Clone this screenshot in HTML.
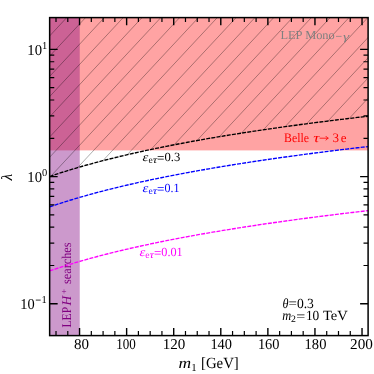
<!DOCTYPE html>
<html><head><meta charset="utf-8">
<style>
html,body{margin:0;padding:0;background:#fff;overflow:hidden;width:374px;height:374px;}
svg{display:block}
.ov{position:absolute;left:0;top:0;will-change:transform;}
text{font-family:"Liberation Serif",serif;text-rendering:geometricPrecision;}
</style></head>
<body>
<svg width="374" height="374" viewBox="0 0 374 374">
<rect width="374" height="374" fill="#fff"/>
<defs>
<clipPath id="hc"><path d="M49.65,176.53 L54.96,174.72 L60.27,172.98 L65.57,171.29 L70.88,169.65 L76.19,168.05 L81.50,166.50 L86.80,165.00 L92.11,163.53 L97.42,162.11 L102.73,160.71 L108.03,159.36 L113.34,158.03 L118.65,156.74 L123.96,155.48 L129.26,154.25 L134.57,153.04 L139.88,151.86 L145.19,150.70 L150.49,149.57 L155.80,148.46 L161.11,147.37 L166.42,146.31 L171.72,145.26 L177.03,144.24 L182.34,143.23 L187.65,142.24 L192.95,141.27 L198.26,140.31 L203.57,139.38 L208.88,138.45 L214.18,137.55 L219.49,136.66 L224.80,135.78 L230.10,134.91 L235.41,134.06 L240.72,133.23 L246.03,132.40 L251.34,131.59 L256.64,130.79 L261.95,130.00 L267.26,129.22 L272.57,128.45 L277.87,127.70 L283.18,126.95 L288.49,126.21 L293.80,125.49 L299.10,124.77 L304.41,124.06 L309.72,123.37 L315.02,122.68 L320.33,121.99 L325.64,121.32 L330.95,120.66 L336.26,120.00 L341.56,119.35 L346.87,118.71 L352.18,118.08 L357.49,117.45 L362.79,116.83 L368.10,116.22 L368.1,17.6 L49.65,17.6 Z"/></clipPath>
<clipPath id="ax"><rect x="49.65" y="17.6" width="318.45000000000005" height="318.0"/></clipPath>
</defs>
<rect x="49.65" y="17.6" width="318.45000000000005" height="132.80" fill="#ff0000" fill-opacity="0.36"/>
<rect x="49.65" y="17.6" width="30.10" height="318.0" fill="#800080" fill-opacity="0.4"/>
<g clip-path="url(#hc)"><path d="M7.84,0 L-364.56,400 M26.66,0 L-345.74,400 M45.48,0 L-326.92,400 M64.30,0 L-308.10,400 M83.11,0 L-289.29,400 M101.93,0 L-270.47,400 M120.75,0 L-251.65,400 M139.57,0 L-232.83,400 M158.39,0 L-214.01,400 M177.20,0 L-195.20,400 M196.02,0 L-176.38,400 M214.84,0 L-157.56,400 M233.66,0 L-138.74,400 M252.48,0 L-119.92,400 M271.29,0 L-101.11,400 M290.11,0 L-82.29,400 M308.93,0 L-63.47,400 M327.75,0 L-44.65,400 M346.57,0 L-25.83,400 M365.38,0 L-7.02,400 M384.20,0 L11.80,400 M403.02,0 L30.62,400 M421.84,0 L49.44,400 M440.66,0 L68.26,400 M459.47,0 L87.07,400 M478.29,0 L105.89,400 M497.11,0 L124.71,400 M515.93,0 L143.53,400 M534.75,0 L162.35,400 M553.56,0 L181.16,400 M572.38,0 L199.98,400 M591.20,0 L218.80,400 M610.02,0 L237.62,400 M628.84,0 L256.44,400 M647.65,0 L275.25,400 M666.47,0 L294.07,400 M685.29,0 L312.89,400 M704.11,0 L331.71,400 M722.93,0 L350.53,400 M741.74,0 L369.34,400 M760.56,0 L388.16,400 M779.38,0 L406.98,400 M798.20,0 L425.80,400 M817.02,0 L444.62,400 M835.83,0 L463.43,400 M854.65,0 L482.25,400" stroke="#000" stroke-opacity="0.6" stroke-width="0.55" fill="none"/></g>
<g clip-path="url(#ax)" fill="none" stroke-width="1.35" stroke-dasharray="4,1.2">
<path d="M49.65,176.53 L54.96,174.72 L60.27,172.98 L65.57,171.29 L70.88,169.65 L76.19,168.05 L81.50,166.50 L86.80,165.00 L92.11,163.53 L97.42,162.11 L102.73,160.71 L108.03,159.36 L113.34,158.03 L118.65,156.74 L123.96,155.48 L129.26,154.25 L134.57,153.04 L139.88,151.86 L145.19,150.70 L150.49,149.57 L155.80,148.46 L161.11,147.37 L166.42,146.31 L171.72,145.26 L177.03,144.24 L182.34,143.23 L187.65,142.24 L192.95,141.27 L198.26,140.31 L203.57,139.38 L208.88,138.45 L214.18,137.55 L219.49,136.66 L224.80,135.78 L230.10,134.91 L235.41,134.06 L240.72,133.23 L246.03,132.40 L251.34,131.59 L256.64,130.79 L261.95,130.00 L267.26,129.22 L272.57,128.45 L277.87,127.70 L283.18,126.95 L288.49,126.21 L293.80,125.49 L299.10,124.77 L304.41,124.06 L309.72,123.37 L315.02,122.68 L320.33,121.99 L325.64,121.32 L330.95,120.66 L336.26,120.00 L341.56,119.35 L346.87,118.71 L352.18,118.08 L357.49,117.45 L362.79,116.83 L368.10,116.22" stroke="#000"/>
<path d="M49.65,206.87 L54.96,205.07 L60.27,203.32 L65.57,201.63 L70.88,199.99 L76.19,198.40 L81.50,196.85 L86.80,195.34 L92.11,193.88 L97.42,192.45 L102.73,191.06 L108.03,189.70 L113.34,188.38 L118.65,187.09 L123.96,185.82 L129.26,184.59 L134.57,183.38 L139.88,182.20 L145.19,181.05 L150.49,179.91 L155.80,178.81 L161.11,177.72 L166.42,176.65 L171.72,175.61 L177.03,174.58 L182.34,173.57 L187.65,172.59 L192.95,171.61 L198.26,170.66 L203.57,169.72 L208.88,168.80 L214.18,167.89 L219.49,167.00 L224.80,166.12 L230.10,165.26 L235.41,164.41 L240.72,163.57 L246.03,162.75 L251.34,161.93 L256.64,161.13 L261.95,160.34 L267.26,159.57 L272.57,158.80 L277.87,158.04 L283.18,157.30 L288.49,156.56 L293.80,155.83 L299.10,155.12 L304.41,154.41 L309.72,153.71 L315.02,153.02 L320.33,152.34 L325.64,151.67 L330.95,151.00 L336.26,150.35 L341.56,149.70 L346.87,149.06 L352.18,148.42 L357.49,147.79 L362.79,147.18 L368.10,146.56" stroke="#0000ff"/>
<path d="M49.65,270.92 L54.96,269.12 L60.27,267.37 L65.57,265.68 L70.88,264.04 L76.19,262.44 L81.50,260.90 L86.80,259.39 L92.11,257.93 L97.42,256.50 L102.73,255.11 L108.03,253.75 L113.34,252.43 L118.65,251.13 L123.96,249.87 L129.26,248.64 L134.57,247.43 L139.88,246.25 L145.19,245.09 L150.49,243.96 L155.80,242.85 L161.11,241.77 L166.42,240.70 L171.72,239.65 L177.03,238.63 L182.34,237.62 L187.65,236.63 L192.95,235.66 L198.26,234.71 L203.57,233.77 L208.88,232.85 L214.18,231.94 L219.49,231.05 L224.80,230.17 L230.10,229.31 L235.41,228.46 L240.72,227.62 L246.03,226.79 L251.34,225.98 L256.64,225.18 L261.95,224.39 L267.26,223.61 L272.57,222.85 L277.87,222.09 L283.18,221.34 L288.49,220.61 L293.80,219.88 L299.10,219.16 L304.41,218.46 L309.72,217.76 L315.02,217.07 L320.33,216.39 L325.64,215.71 L330.95,215.05 L336.26,214.39 L341.56,213.74 L346.87,213.10 L352.18,212.47 L357.49,211.84 L362.79,211.22 L368.10,210.61" stroke="#ff00ff"/>
</g>
<path d="M56.01,335.6 v-4.5 M56.01,17.6 v4.5" stroke="#000" stroke-width="1.2" fill="none"/>
<path d="M67.78,335.6 v-4.5 M67.78,17.6 v4.5" stroke="#000" stroke-width="1.2" fill="none"/>
<path d="M79.55,335.6 v-7.6 M79.55,17.6 v7.6" stroke="#000" stroke-width="1.4" fill="none"/>
<path d="M91.32,335.6 v-4.5 M91.32,17.6 v4.5" stroke="#000" stroke-width="1.2" fill="none"/>
<path d="M103.09,335.6 v-4.5 M103.09,17.6 v4.5" stroke="#000" stroke-width="1.2" fill="none"/>
<path d="M114.86,335.6 v-4.5 M114.86,17.6 v4.5" stroke="#000" stroke-width="1.2" fill="none"/>
<path d="M126.63,335.6 v-7.6 M126.63,17.6 v7.6" stroke="#000" stroke-width="1.4" fill="none"/>
<path d="M138.40,335.6 v-4.5 M138.40,17.6 v4.5" stroke="#000" stroke-width="1.2" fill="none"/>
<path d="M150.17,335.6 v-4.5 M150.17,17.6 v4.5" stroke="#000" stroke-width="1.2" fill="none"/>
<path d="M161.94,335.6 v-4.5 M161.94,17.6 v4.5" stroke="#000" stroke-width="1.2" fill="none"/>
<path d="M173.71,335.6 v-7.6 M173.71,17.6 v7.6" stroke="#000" stroke-width="1.4" fill="none"/>
<path d="M185.48,335.6 v-4.5 M185.48,17.6 v4.5" stroke="#000" stroke-width="1.2" fill="none"/>
<path d="M197.25,335.6 v-4.5 M197.25,17.6 v4.5" stroke="#000" stroke-width="1.2" fill="none"/>
<path d="M209.02,335.6 v-4.5 M209.02,17.6 v4.5" stroke="#000" stroke-width="1.2" fill="none"/>
<path d="M220.79,335.6 v-7.6 M220.79,17.6 v7.6" stroke="#000" stroke-width="1.4" fill="none"/>
<path d="M232.56,335.6 v-4.5 M232.56,17.6 v4.5" stroke="#000" stroke-width="1.2" fill="none"/>
<path d="M244.33,335.6 v-4.5 M244.33,17.6 v4.5" stroke="#000" stroke-width="1.2" fill="none"/>
<path d="M256.10,335.6 v-4.5 M256.10,17.6 v4.5" stroke="#000" stroke-width="1.2" fill="none"/>
<path d="M267.87,335.6 v-7.6 M267.87,17.6 v7.6" stroke="#000" stroke-width="1.4" fill="none"/>
<path d="M279.64,335.6 v-4.5 M279.64,17.6 v4.5" stroke="#000" stroke-width="1.2" fill="none"/>
<path d="M291.41,335.6 v-4.5 M291.41,17.6 v4.5" stroke="#000" stroke-width="1.2" fill="none"/>
<path d="M303.18,335.6 v-4.5 M303.18,17.6 v4.5" stroke="#000" stroke-width="1.2" fill="none"/>
<path d="M314.95,335.6 v-7.6 M314.95,17.6 v7.6" stroke="#000" stroke-width="1.4" fill="none"/>
<path d="M326.72,335.6 v-4.5 M326.72,17.6 v4.5" stroke="#000" stroke-width="1.2" fill="none"/>
<path d="M338.49,335.6 v-4.5 M338.49,17.6 v4.5" stroke="#000" stroke-width="1.2" fill="none"/>
<path d="M350.26,335.6 v-4.5 M350.26,17.6 v4.5" stroke="#000" stroke-width="1.2" fill="none"/>
<path d="M362.03,335.6 v-7.6 M362.03,17.6 v7.6" stroke="#000" stroke-width="1.4" fill="none"/>
<path d="M49.65,303.80 h8.0 M368.1,303.80 h-8.0" stroke="#000" stroke-width="1.4" fill="none"/>
<path d="M49.65,265.51 h4.6 M368.1,265.51 h-4.6" stroke="#000" stroke-width="1.2" fill="none"/>
<path d="M49.65,243.11 h4.6 M368.1,243.11 h-4.6" stroke="#000" stroke-width="1.2" fill="none"/>
<path d="M49.65,227.22 h4.6 M368.1,227.22 h-4.6" stroke="#000" stroke-width="1.2" fill="none"/>
<path d="M49.65,214.89 h4.6 M368.1,214.89 h-4.6" stroke="#000" stroke-width="1.2" fill="none"/>
<path d="M49.65,204.82 h4.6 M368.1,204.82 h-4.6" stroke="#000" stroke-width="1.2" fill="none"/>
<path d="M49.65,196.30 h4.6 M368.1,196.30 h-4.6" stroke="#000" stroke-width="1.2" fill="none"/>
<path d="M49.65,188.93 h4.6 M368.1,188.93 h-4.6" stroke="#000" stroke-width="1.2" fill="none"/>
<path d="M49.65,182.42 h4.6 M368.1,182.42 h-4.6" stroke="#000" stroke-width="1.2" fill="none"/>
<path d="M49.65,176.60 h8.0 M368.1,176.60 h-8.0" stroke="#000" stroke-width="1.4" fill="none"/>
<path d="M49.65,138.31 h4.6 M368.1,138.31 h-4.6" stroke="#000" stroke-width="1.2" fill="none"/>
<path d="M49.65,115.91 h4.6 M368.1,115.91 h-4.6" stroke="#000" stroke-width="1.2" fill="none"/>
<path d="M49.65,100.02 h4.6 M368.1,100.02 h-4.6" stroke="#000" stroke-width="1.2" fill="none"/>
<path d="M49.65,87.69 h4.6 M368.1,87.69 h-4.6" stroke="#000" stroke-width="1.2" fill="none"/>
<path d="M49.65,77.62 h4.6 M368.1,77.62 h-4.6" stroke="#000" stroke-width="1.2" fill="none"/>
<path d="M49.65,69.10 h4.6 M368.1,69.10 h-4.6" stroke="#000" stroke-width="1.2" fill="none"/>
<path d="M49.65,61.73 h4.6 M368.1,61.73 h-4.6" stroke="#000" stroke-width="1.2" fill="none"/>
<path d="M49.65,55.22 h4.6 M368.1,55.22 h-4.6" stroke="#000" stroke-width="1.2" fill="none"/>
<path d="M49.65,49.40 h8.0 M368.1,49.40 h-8.0" stroke="#000" stroke-width="1.4" fill="none"/>
<rect x="49.65" y="17.6" width="318.45000000000005" height="318.0" fill="none" stroke="#000" stroke-width="1.5"/>
</svg>
<svg class="ov" width="374" height="374" viewBox="0 0 374 374">
<text x="73.9" y="348.5" font-size="15" fill="#000" textLength="15.0" lengthAdjust="spacingAndGlyphs">80</text>
<text x="116.2" y="348.5" font-size="15" fill="#000" textLength="19.6" lengthAdjust="spacingAndGlyphs">100</text>
<text x="162.8" y="348.5" font-size="15" fill="#000" textLength="22.6" lengthAdjust="spacingAndGlyphs">120</text>
<text x="210.4" y="348.5" font-size="15" fill="#000" textLength="21.6" lengthAdjust="spacingAndGlyphs">140</text>
<text x="257.9" y="348.5" font-size="15" fill="#000" textLength="21.6" lengthAdjust="spacingAndGlyphs">160</text>
<text x="304.6" y="348.5" font-size="15" fill="#000" textLength="21.8" lengthAdjust="spacingAndGlyphs">180</text>
<text x="350.1" y="348.5" font-size="15" fill="#000" textLength="22.8" lengthAdjust="spacingAndGlyphs">200</text>
<text x="27.3" y="54.8" font-size="15" fill="#000" textLength="14.7" lengthAdjust="spacingAndGlyphs">10</text>
<text x="42.0" y="48.6" font-size="10.5" fill="#000">1</text>
<text x="27.3" y="182.0" font-size="15" fill="#000" textLength="14.7" lengthAdjust="spacingAndGlyphs">10</text>
<text x="42.0" y="175.8" font-size="10.5" fill="#000">0</text>
<text x="20.3" y="309.2" font-size="15" fill="#000" textLength="14.4" lengthAdjust="spacingAndGlyphs">10</text>
<path d="M35.8,300.10 h4.9" stroke="#000" stroke-width="0.8"/>
<text x="41.5" y="303.0" font-size="10.5" fill="#000">1</text>
<text x="178.6" y="368.1" font-size="15.5" fill="#000" font-style="italic" textLength="12.6" lengthAdjust="spacingAndGlyphs">m</text>
<text x="191.2" y="370.7" font-size="10.8" fill="#000">1</text>
<text x="201.0" y="368.1" font-size="15.5" fill="#000" textLength="37.8" lengthAdjust="spacingAndGlyphs">[GeV]</text>
<text transform="translate(12.0,177.2) rotate(-90)" text-anchor="middle" font-size="15.5" font-style="italic">λ</text>
<text x="280.5" y="39.4" font-size="12.2" fill="#808080" textLength="54.2" lengthAdjust="spacingAndGlyphs">LEP Mono</text>
<path d="M336.0,36.4 h5.6" stroke="#808080" stroke-width="0.7"/>
<text x="342.9" y="39.6" font-size="11" fill="#808080" font-style="italic" textLength="6.2" lengthAdjust="spacingAndGlyphs">γ</text>
<text x="284.0" y="142.1" font-size="13" fill="#ff0000" textLength="25.0" lengthAdjust="spacingAndGlyphs">Belle</text>
<text x="313.2" y="142.1" font-size="13" fill="#ff0000" font-style="italic" textLength="6.2" lengthAdjust="spacingAndGlyphs">τ</text>
<path d="M319.6,138.2 h8.4 M325.8,136.0 q0.6,1.6 2.6,2.2 q-2,0.6 -2.6,2.2" stroke="#ff0000" stroke-width="0.8" fill="none"/>
<text x="332.6" y="142.1" font-size="13" fill="#ff0000">3</text>
<text x="340.7" y="142.1" font-size="13" fill="#ff0000">e</text>
<text x="142.6" y="161.0" font-size="12.2" fill="#000" font-style="italic" textLength="5.8" lengthAdjust="spacingAndGlyphs">ε</text>
<text x="148.5" y="163.0" font-size="9.6" fill="#000">e</text>
<text x="152.79999999999998" y="163.0" font-size="9.6" fill="#000" font-style="italic" textLength="4.4" lengthAdjust="spacingAndGlyphs">τ</text>
<text x="157.1" y="161.6" font-size="12.5" fill="#000" textLength="7.4" lengthAdjust="spacingAndGlyphs">=</text>
<text x="164.5" y="161.0" font-size="12.5" fill="#000" textLength="15.8" lengthAdjust="spacingAndGlyphs">0.3</text>
<text x="142.6" y="192.4" font-size="12.2" fill="#0000ff" font-style="italic" textLength="5.8" lengthAdjust="spacingAndGlyphs">ε</text>
<text x="148.5" y="194.4" font-size="9.6" fill="#0000ff">e</text>
<text x="152.79999999999998" y="194.4" font-size="9.6" fill="#0000ff" font-style="italic" textLength="4.4" lengthAdjust="spacingAndGlyphs">τ</text>
<text x="157.1" y="193.0" font-size="12.5" fill="#0000ff" textLength="7.4" lengthAdjust="spacingAndGlyphs">=</text>
<text x="164.5" y="192.4" font-size="12.5" fill="#0000ff" textLength="15.0" lengthAdjust="spacingAndGlyphs">0.1</text>
<text x="139.4" y="256.3" font-size="12.2" fill="#ff00ff" font-style="italic" textLength="5.8" lengthAdjust="spacingAndGlyphs">ε</text>
<text x="145.3" y="258.3" font-size="9.6" fill="#ff00ff">e</text>
<text x="149.6" y="258.3" font-size="9.6" fill="#ff00ff" font-style="italic" textLength="4.4" lengthAdjust="spacingAndGlyphs">τ</text>
<text x="153.9" y="256.90000000000003" font-size="12.5" fill="#ff00ff" textLength="7.4" lengthAdjust="spacingAndGlyphs">=</text>
<text x="161.3" y="256.3" font-size="12.5" fill="#ff00ff" textLength="21.4" lengthAdjust="spacingAndGlyphs">0.01</text>
<g transform="translate(71.3,327.5) rotate(-90)"><text x="0" y="0" font-size="13.4" fill="#800080" textLength="20.6" lengthAdjust="spacingAndGlyphs">LEP</text>
<text x="22.0" y="0" font-size="13.4" fill="#800080" font-style="italic" textLength="9.6" lengthAdjust="spacingAndGlyphs">H</text>
<text x="33.6" y="-4.6" font-size="9" fill="#800080">+</text>
<text x="43.6" y="0" font-size="13.4" fill="#800080" textLength="41.4" lengthAdjust="spacingAndGlyphs">searches</text>
</g>
<text x="282.4" y="307.5" font-size="14" fill="#000" font-style="italic" textLength="6.0" lengthAdjust="spacingAndGlyphs">θ</text>
<text x="288.5" y="308.4" font-size="14" fill="#000" textLength="8.4" lengthAdjust="spacingAndGlyphs">=</text>
<text x="296.9" y="307.5" font-size="14" fill="#000" textLength="17.0" lengthAdjust="spacingAndGlyphs">0.3</text>
<text x="282.2" y="319.8" font-size="14" fill="#000" font-style="italic" textLength="9.0" lengthAdjust="spacingAndGlyphs">m</text>
<text x="291.0" y="322.2" font-size="9.8" fill="#000">2</text>
<text x="296.3" y="320.7" font-size="14" fill="#000" textLength="9.0" lengthAdjust="spacingAndGlyphs">=</text>
<text x="305.9" y="319.8" font-size="14" fill="#000" textLength="13.4" lengthAdjust="spacingAndGlyphs">10</text>
<text x="323.0" y="319.8" font-size="14" fill="#000" textLength="24.8" lengthAdjust="spacingAndGlyphs">TeV</text>

</svg>
</body></html>
